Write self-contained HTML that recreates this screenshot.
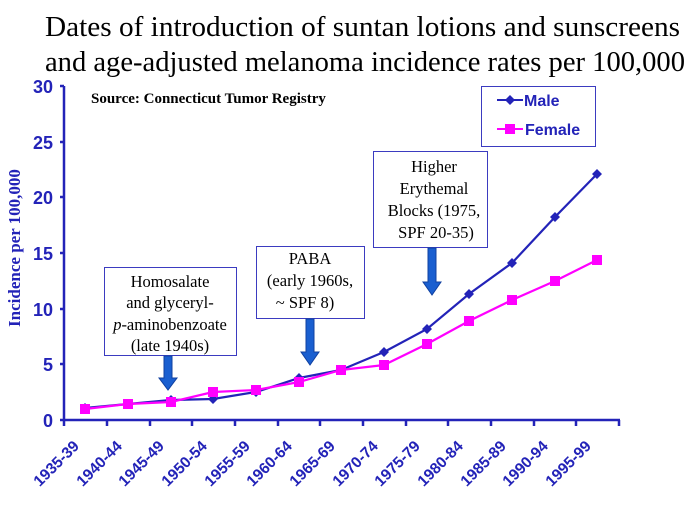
<!DOCTYPE html>
<html><head><meta charset="utf-8"><style>
html,body{margin:0;padding:0;background:#fff;width:698px;height:512px;overflow:hidden}
svg{display:block}
.t{font-family:"Liberation Serif",serif;font-size:29px;fill:#000}
.ax{font-family:"Liberation Sans",sans-serif;font-weight:bold;fill:#2323b8}
.bx{font-family:"Liberation Serif",serif;font-size:16.5px;fill:#000}
</style></head><body>
<svg width="698" height="512" viewBox="0 0 698 512" xmlns="http://www.w3.org/2000/svg">
<text class="t" x="45" y="36" textLength="635" lengthAdjust="spacingAndGlyphs">Dates of introduction of suntan lotions and sunscreens</text>
<text class="t" x="45" y="71" textLength="640" lengthAdjust="spacingAndGlyphs">and age-adjusted melanoma incidence rates per 100,000</text>
<text x="91" y="103" font-family="Liberation Serif,serif" font-weight="bold" font-size="15">Source: Connecticut Tumor Registry</text>
<g stroke="#2323b8" stroke-width="2.5" fill="none">
<line x1="64" y1="86" x2="64" y2="421"/>
<line x1="63" y1="420" x2="620" y2="420"/>
<path d="M60 86H64M60 142H64M60 197H64M60 253H64M60 309H64M60 364H64M60 420H64"/>
<path d="M64 420v6M107 420v6M150 420v6M192 420v6M235 420v6M278 420v6M320 420v6M363 420v6M406 420v6M448 420v6M491 420v6M534 420v6M576 420v6M619 420v6"/>
</g>
<g class="ax" font-size="18" text-anchor="end">
<text x="53" y="93">30</text><text x="53" y="149">25</text><text x="53" y="204">20</text>
<text x="53" y="260">15</text><text x="53" y="316">10</text><text x="53" y="371">5</text><text x="53" y="427">0</text>
</g>
<text font-weight="bold" fill="#2323b8" font-size="17" transform="translate(20,248) rotate(-90)" text-anchor="middle" style="font-family:'Liberation Serif',serif">Incidence per 100,000</text>
<g class="ax" font-size="15.5" text-anchor="end">
<text transform="translate(80,447) rotate(-45)">1935-39</text>
<text transform="translate(123,447) rotate(-45)">1940-44</text>
<text transform="translate(165,447) rotate(-45)">1945-49</text>
<text transform="translate(208,447) rotate(-45)">1950-54</text>
<text transform="translate(251,447) rotate(-45)">1955-59</text>
<text transform="translate(293,447) rotate(-45)">1960-64</text>
<text transform="translate(336,447) rotate(-45)">1965-69</text>
<text transform="translate(379,447) rotate(-45)">1970-74</text>
<text transform="translate(421,447) rotate(-45)">1975-79</text>
<text transform="translate(464,447) rotate(-45)">1980-84</text>
<text transform="translate(507,447) rotate(-45)">1985-89</text>
<text transform="translate(549,447) rotate(-45)">1990-94</text>
<text transform="translate(592,447) rotate(-45)">1995-99</text>
</g>
<g fill="#fff" stroke="#3b3bc0" stroke-width="1">
<rect x="104.5" y="267.5" width="132" height="88"/>
<rect x="256.5" y="246.5" width="108" height="72"/>
<rect x="373.5" y="151.5" width="114" height="96"/>
<rect x="481.5" y="86.5" width="114" height="60"/>
</g>
<g class="bx" text-anchor="middle">
<text x="170" y="287">Homosalate</text><text x="170" y="308">and glyceryl-</text>
<text x="170" y="330"><tspan font-style="italic">p</tspan>-aminobenzoate</text><text x="170" y="351">(late 1940s)</text>
<text x="310" y="264">PABA</text><text x="310" y="286">(early 1960s,</text><text x="305" y="308">~ SPF 8)</text>
<text x="434" y="172">Higher</text><text x="434" y="194">Erythemal</text><text x="434" y="216">Blocks (1975,</text><text x="436" y="238">SPF 20-35)</text>
</g>
<g fill="#1a5fd0" stroke="#1040a0" stroke-width="1">
<path d="M164 356h8v22h5l-9 12l-9-12h5z"/>
<path d="M306 319h8v33h5l-9 13l-9-13h5z"/>
<path d="M428 248h8v34h5l-9 13l-9-13h5z"/>
</g>
<polyline fill="none" stroke="#2323b8" stroke-width="2.2" points="85,408 128,404 171,400 213,399 256,392 299,378 341,370 384,352 427,329 469,294 512,263 555,217 597,174"/>
<polyline fill="none" stroke="#ff00ff" stroke-width="2.2" points="85,409 128,404 171,402 213,392 256,390 299,382 341,370 384,365 427,344 469,321 512,300 555,281 597,260"/>
<g fill="#2323b8">
<path d="M85 403l5 5-5 5-5-5z M128 399l5 5-5 5-5-5z M171 395l5 5-5 5-5-5z M213 394l5 5-5 5-5-5z M256 387l5 5-5 5-5-5z M299 373l5 5-5 5-5-5z M341 365l5 5-5 5-5-5z M384 347l5 5-5 5-5-5z M427 324l5 5-5 5-5-5z M469 289l5 5-5 5-5-5z M512 258l5 5-5 5-5-5z M555 212l5 5-5 5-5-5z M597 169l5 5-5 5-5-5z"/>
</g>
<g fill="#ff00ff">
<rect x="80" y="404" width="10" height="10"/><rect x="123" y="399" width="10" height="10"/><rect x="166" y="397" width="10" height="10"/>
<rect x="208" y="387" width="10" height="10"/><rect x="251" y="385" width="10" height="10"/><rect x="294" y="377" width="10" height="10"/>
<rect x="336" y="365" width="10" height="10"/><rect x="379" y="360" width="10" height="10"/><rect x="422" y="339" width="10" height="10"/>
<rect x="464" y="316" width="10" height="10"/><rect x="507" y="295" width="10" height="10"/><rect x="550" y="276" width="10" height="10"/>
<rect x="592" y="255" width="10" height="10"/>
</g>
<line x1="497" y1="100" x2="523" y2="100" stroke="#2323b8" stroke-width="2"/>
<path d="M510 95l5 5-5 5-5-5z" fill="#2323b8"/>
<line x1="497" y1="129" x2="523" y2="129" stroke="#ff00ff" stroke-width="2"/>
<rect x="505" y="124" width="10" height="10" fill="#ff00ff"/>
<text class="ax" x="524" y="106" font-size="16">Male</text>
<text class="ax" x="525" y="135" font-size="16">Female</text>
</svg>
</body></html>
